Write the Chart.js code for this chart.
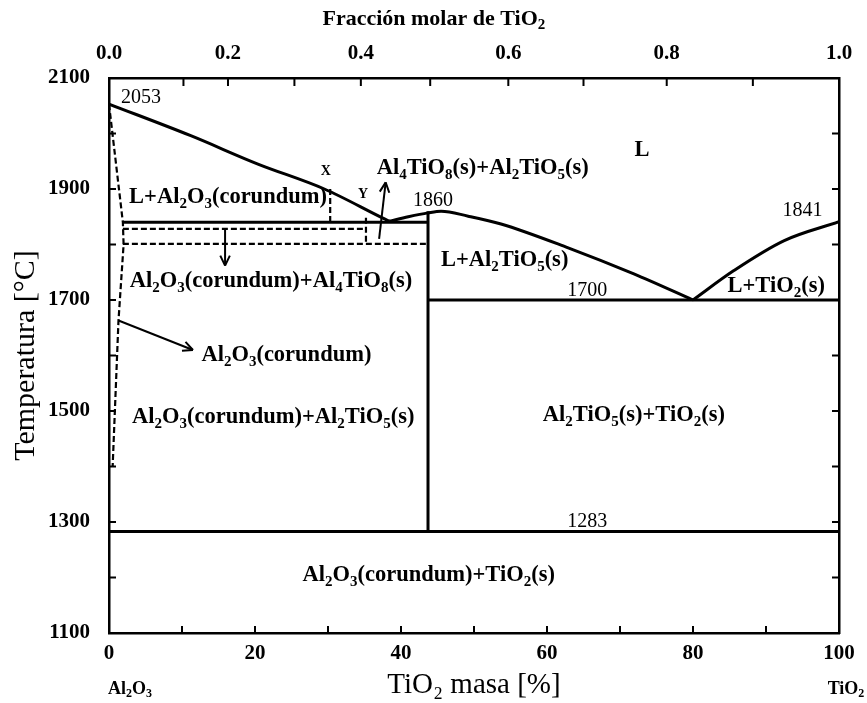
<!DOCTYPE html>
<html>
<head>
<meta charset="utf-8">
<title>Diagrama de fases Al2O3-TiO2</title>
<script src="https://cdn.jsdelivr.net/npm/chart.js@4.4.1/dist/chart.umd.min.js"></script>
<style>
  html, body { margin: 0; padding: 0; background: #fff; }
  #wrap { width: 867px; height: 703px; position: relative; }
</style>
</head>
<body>
<div id="wrap"><canvas id="chart_phase"></canvas></div>
<script>
/* Diagrama Al2O3 - TiO2: x = % masa TiO2, y = temperatura (°C) */

// ejes
const tempMin = 1100;
const tempMax = 2100;
const molarLabels = ['0.0', '', '0.2', '', '0.4', '', '0.6', '', '0.8', '', '1.0'];
const molarAtMass = [0, 10.2, 16.3, 25.4, 34.5, 44.0, 54.7, 65.0, 76.4, 88.2, 100];

// curvas sólidas [masa %, T]
const liquidusLeft  = [[0, 2053], [11.2, 1996], [20.4, 1945], [29.5, 1900], [37.6, 1847], [38.4, 1842]];
const liquidusMid   = [[38.4, 1842], [41, 1850], [43.7, 1857], [45.5, 1860], [49.2, 1851], [53.7, 1837], [62.9, 1794], [71.9, 1747], [80, 1700]];
const liquidusRight = [[80, 1700], [85.6, 1753], [92.5, 1807], [100, 1841]];
const line1840 = [[1.9, 1840], [43.7, 1840]];
const line1700 = [[43.7, 1700], [100, 1700]];
const line1283 = [[0, 1283], [100, 1283]];
const lineAl2TiO5 = [[43.7, 1860], [43.7, 1283]];

// curvas discontinuas
const solvus   = [[0, 2053], [1.9, 1840], [2.0, 1800], [1.3, 1663], [0.5, 1400]];
const dash1828 = [[1.9, 1828], [35.2, 1828]];
const dash1801 = [[1.9, 1801], [43.7, 1801]];
const dashX    = [[30.3, 1900], [30.3, 1840]];
const dashY    = [[35.2, 1848], [35.2, 1801]];

// flechas [desde, hasta]
const arrowFrom = [[15.9, 1828], [37.0, 1810], [1.3, 1663]];
const arrowTo   = [[15.9, 1762], [37.9, 1912], [11.5, 1610]];

// rótulos (el "_" marca subíndice)
const labelTexts = ['2053', 'L', 'X', 'Y', 'Al_4TiO_8(s)+Al_2TiO_5(s)', '1860', 'L+Al_2O_3(corundum)', '1841',
  'L+Al_2TiO_5(s)', '1700', 'L+TiO_2(s)', 'Al_2O_3(corundum)+Al_4TiO_8(s)', 'Al_2O_3(corundum)',
  'Al_2O_3(corundum)+Al_2TiO_5(s)', 'Al_2TiO_5(s)+TiO_2(s)', '1283', 'Al_2O_3(corundum)+TiO_2(s)'];
const labelMass = [4.4, 73, 29.7, 34.8, 51.2, 44.4, 16.3, 95.0, 54.2, 65.5, 91.4, 22.2, 24.3, 22.5, 71.9, 65.5, 43.8];
const labelTemp = [2064, 1970, 1932, 1891, 1938, 1879, 1885, 1860, 1771, 1716, 1724, 1733, 1600, 1488, 1492, 1300, 1204];

const topTitle = 'Fracción molar de TiO_2';

const FONT = '"Liberation Serif", "Times New Roman", serif';

function pts(arr){
  return arr.map(p => ({ x: p[0], y: p[1] }));
}

function solid(arr, smooth){
  return {
    data: pts(arr), showLine: true, pointRadius: 0, borderColor: '#000', borderWidth: 3,
    fill: false, cubicInterpolationMode: smooth ? 'monotone' : 'default', tension: 0
  };
}

function dashed(arr){
  return {
    data: pts(arr), showLine: true, pointRadius: 0, borderColor: '#000', borderWidth: 2.2,
    borderDash: [6, 3], fill: false, tension: 0
  };
}

// dibuja texto con subíndices
function drawRich(ctx, text, cx, cy, size, weight){
  const parts = [];
  let i = 0;
  while (i < text.length){
    if (text[i] === '_'){
      parts.push({ t: text[i + 1], sub: true });
      i += 2;
    } else {
      let j = i;
      while (j < text.length && text[j] !== '_') j++;
      parts.push({ t: text.slice(i, j), sub: false });
      i = j;
    }
  }
  const subSize = Math.round(size * 0.68);
  let total = 0;
  parts.forEach(p => {
    ctx.font = `${weight} ${p.sub ? subSize : size}px ${FONT}`;
    p.w = ctx.measureText(p.t).width;
    total += p.w;
  });
  let x = cx - total / 2;
  ctx.textAlign = 'left';
  ctx.textBaseline = 'middle';
  parts.forEach(p => {
    ctx.font = `${weight} ${p.sub ? subSize : size}px ${FONT}`;
    ctx.fillText(p.t, x, p.sub ? cy + size * 0.3 : cy);
    x += p.w;
  });
}

const annotations = {
  id: 'annotations',
  afterDatasetsDraw(chart){
    const { ctx, scales: { x, y } } = chart;
    ctx.save();
    ctx.fillStyle = '#000';
    ctx.strokeStyle = '#000';

    // flechas
    ctx.lineWidth = 2;
    arrowFrom.forEach((a, k) => {
      const x0 = x.getPixelForValue(a[0]), y0 = y.getPixelForValue(a[1]);
      const x1 = x.getPixelForValue(arrowTo[k][0]), y1 = y.getPixelForValue(arrowTo[k][1]);
      const ang = Math.atan2(y1 - y0, x1 - x0);
      ctx.beginPath();
      ctx.moveTo(x0, y0);
      ctx.lineTo(x1, y1);
      ctx.stroke();
      ctx.beginPath();
      ctx.moveTo(x1, y1);
      ctx.lineTo(x1 - 11 * Math.cos(ang - 0.45), y1 - 11 * Math.sin(ang - 0.45));
      ctx.moveTo(x1, y1);
      ctx.lineTo(x1 - 11 * Math.cos(ang + 0.45), y1 - 11 * Math.sin(ang + 0.45));
      ctx.stroke();
    });

    // rótulos
    labelTexts.forEach((t, k) => {
      const px = x.getPixelForValue(labelMass[k]);
      const py = y.getPixelForValue(labelTemp[k]);
      if (/^\d+$/.test(t)) drawRich(ctx, t, px, py, 20, 'normal');
      else if (t === 'X' || t === 'Y') drawRich(ctx, t, px, py, 14, 'bold');
      else drawRich(ctx, t, px, py, 22.5, 'bold');
    });

    // compuestos en los extremos del eje inferior
    const yb = chart.chartArea.bottom + 56;
    drawRich(ctx, 'Al_2O_3', x.getPixelForValue(0) + 21, yb, 18, 'bold');
    drawRich(ctx, 'TiO_2', x.getPixelForValue(100) + 7, yb, 18, 'bold');

    // título del eje superior (desplazado a la izquierda como en el original)
    drawRich(ctx, topTitle, x.getPixelForValue(44.5), 19, 22, 'bold');
    ctx.restore();
  },
  afterDraw(chart){
    // marcas de graduación hacia dentro
    const { ctx, chartArea: a, scales } = chart;
    ctx.save();
    ctx.strokeStyle = '#000';
    ctx.lineWidth = 2;
    ctx.beginPath();
    scales.x.ticks.forEach(t => {
      const px = scales.x.getPixelForValue(t.value);
      ctx.moveTo(px, a.bottom); ctx.lineTo(px, a.bottom - 7);
    });
    scales.x2.ticks.forEach(t => {
      const px = scales.x2.getPixelForValue(t.value);
      ctx.moveTo(px, a.top); ctx.lineTo(px, a.top + 8);
    });
    scales.y.ticks.forEach(t => {
      const py = scales.y.getPixelForValue(t.value);
      ctx.moveTo(a.left, py); ctx.lineTo(a.left + 7, py);
      ctx.moveTo(a.right, py); ctx.lineTo(a.right - 7, py);
    });
    ctx.stroke();
    ctx.restore();
  }
};

const tickFont = { family: FONT, size: 21, weight: 'bold' };
const noGrid = { display: false, drawTicks: false };
const borderOpts = { display: true, color: '#000', width: 2.5 };

const ctx = document.getElementById('chart_phase');
const chartPhase = new Chart(ctx, {
  type: 'scatter',
  data: {
    datasets: [
      solid(liquidusLeft, true),
      solid(liquidusMid, true),
      solid(liquidusRight, true),
      solid(line1840), solid(line1700), solid(line1283), solid(lineAl2TiO5),
      dashed(solvus), dashed(dash1828), dashed(dash1801), dashed(dashX), dashed(dashY),
    ]
  },
  options: {
    responsive: true,
    maintainAspectRatio: false,
    animation: false,
    layout: { padding: 0 },
    plugins: { legend: { display: false }, tooltip: { enabled: false } },
    scales: {
      x: {
        type: 'linear', position: 'bottom', min: 0, max: 100,
        grid: noGrid, border: borderOpts,
        ticks: { stepSize: 10, autoSkip: false, maxRotation: 0, padding: 8, color: '#000', font: tickFont,
          callback: v => (v % 20 === 0 ? String(v) : '') },
        title: { display: true, text: 'TiO₂ masa [%]', color: '#000', font: { family: FONT, size: 29 }, padding: { top: 0, bottom: 0 } },
        afterFit: s => { s.height = 70; }
      },
      x2: {
        type: 'linear', position: 'top', min: 0, max: 100,
        grid: noGrid, border: borderOpts,
        afterBuildTicks: s => { s.ticks = molarAtMass.map(v => ({ value: v })); },
        ticks: { autoSkip: false, maxRotation: 0, padding: 12, color: '#000', font: tickFont,
          callback: (v, i) => molarLabels[i] },
        afterFit: s => { s.height = 78; }
      },
      y: {
        type: 'linear', position: 'left', min: tempMin, max: tempMax,
        grid: noGrid, border: borderOpts,
        ticks: { stepSize: 100, autoSkip: false, padding: 19, color: '#000', font: tickFont,
          callback: v => ((v - tempMin) % 200 === 0 ? String(v) : '') },
        title: { display: true, text: 'Temperatura [°C]', color: '#000', font: { family: FONT, size: 30 }, padding: { top: 8, bottom: 0 } },
        afterFit: s => { s.width = 109; }
      },
      y2: {
        type: 'linear', position: 'right', min: tempMin, max: tempMax,
        grid: noGrid, border: borderOpts,
        ticks: { display: false },
        afterFit: s => { s.width = 28; }
      }
    }
  },
  plugins: [annotations]
});
</script>
</body>
</html>
